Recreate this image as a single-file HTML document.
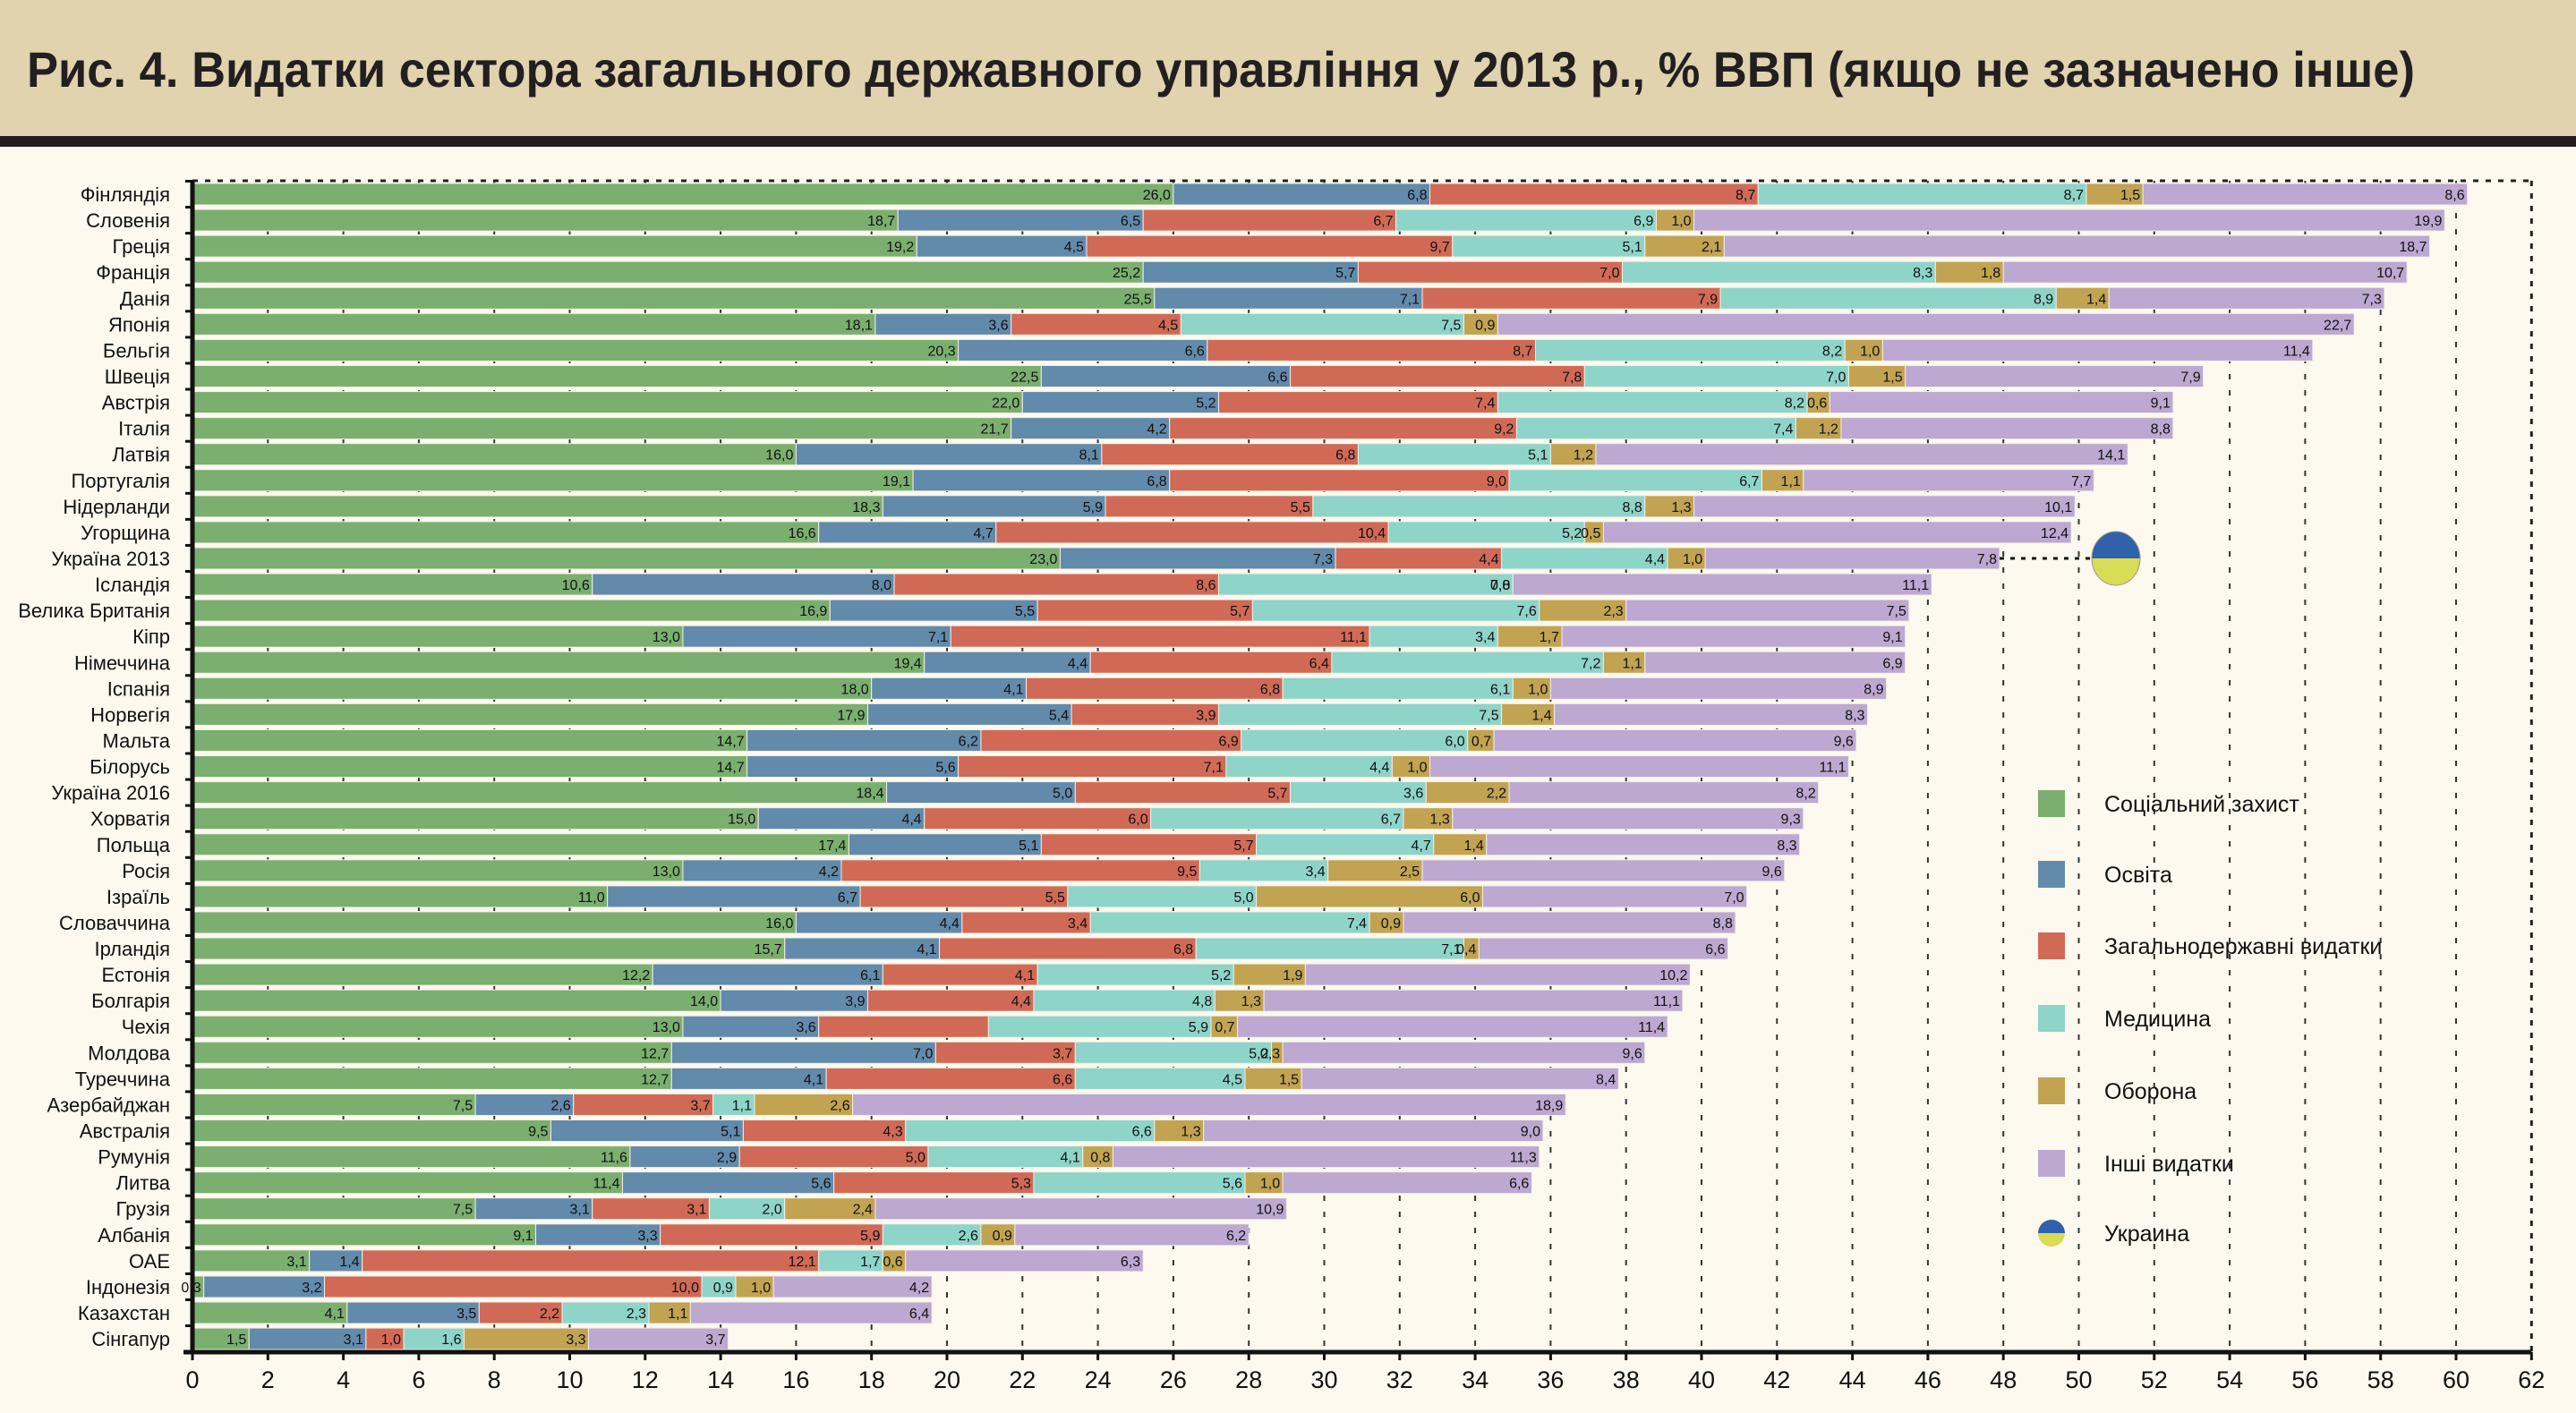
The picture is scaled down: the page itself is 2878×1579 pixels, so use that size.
<!DOCTYPE html>
<html><head><meta charset="utf-8"><style>
html,body{margin:0;padding:0;background:#fdf9ee;}
svg{display:block;font-family:"Liberation Sans Narrow","Liberation Sans","DejaVu Sans",sans-serif;}
</style></head><body>
<svg id="chart" width="2878" height="1579" viewBox="0 0 2878 1579">
<rect x="0" y="0" width="2878" height="152" fill="#e0d3ae"/>
<rect x="0" y="152" width="2878" height="12" fill="#231f20"/>
<text x="30" y="97" font-size="56" font-weight="bold" fill="#231f20" textLength="2668" lengthAdjust="spacingAndGlyphs" style="font-family:'Liberation Sans',sans-serif">Рис. 4. Видатки сектора загального державного управління у 2013 р., % ВВП (якщо не зазначено інше)</text>
<g id="grid"></g><g id="bars"></g><g id="axes"></g><g id="legend"></g>
</svg>
<script>
const countries=["Фінляндія","Словенія","Греція","Франція","Данія","Японія","Бельгія","Швеція","Австрія","Італія","Латвія","Португалія","Нідерланди","Угорщина","Україна 2013","Ісландія","Велика Британія","Кіпр","Німеччина","Іспанія","Норвегія","Мальта","Білорусь","Україна 2016","Хорватія","Польща","Росія","Ізраїль","Словаччина","Ірландія","Естонія","Болгарія","Чехія","Молдова","Туреччина","Азербайджан","Австралія","Румунія","Литва","Грузія","Албанія","ОАЕ","Індонезія","Казахстан","Сінгапур"];
const social=[26.0,18.7,19.2,25.2,25.5,18.1,20.3,22.5,22.0,21.7,16.0,19.1,18.3,16.6,23.0,10.6,16.9,13.0,19.4,18.0,17.9,14.7,14.7,18.4,15.0,17.4,13.0,11.0,16.0,15.7,12.2,14.0,13.0,12.7,12.7,7.5,9.5,11.6,11.4,7.5,9.1,3.1,0.3,4.1,1.5];
const education=[6.8,6.5,4.5,5.7,7.1,3.6,6.6,6.6,5.2,4.2,8.1,6.8,5.9,4.7,7.3,8.0,5.5,7.1,4.4,4.1,5.4,6.2,5.6,5.0,4.4,5.1,4.2,6.7,4.4,4.1,6.1,3.9,3.6,7.0,4.1,2.6,5.1,2.9,5.6,3.1,3.3,1.4,3.2,3.5,3.1];
const general=[8.7,6.7,9.7,7.0,7.9,4.5,8.7,7.8,7.4,9.2,6.8,9.0,5.5,10.4,4.4,8.6,5.7,11.1,6.4,6.8,3.9,6.9,7.1,5.7,6.0,5.7,9.5,5.5,3.4,6.8,4.1,4.4,4.5,3.7,6.6,3.7,4.3,5.0,5.3,3.1,5.9,12.1,10.0,2.2,1.0];
const health=[8.7,6.9,5.1,8.3,8.9,7.5,8.2,7.0,8.2,7.4,5.1,6.7,8.8,5.2,4.4,7.8,7.6,3.4,7.2,6.1,7.5,6.0,4.4,3.6,6.7,4.7,3.4,5.0,7.4,7.1,5.2,4.8,5.9,5.2,4.5,1.1,6.6,4.1,5.6,2.0,2.6,1.7,0.9,2.3,1.6];
const defence=[1.5,1.0,2.1,1.8,1.4,0.9,1.0,1.5,0.6,1.2,1.2,1.1,1.3,0.5,1.0,0.0,2.3,1.7,1.1,1.0,1.4,0.7,1.0,2.2,1.3,1.4,2.5,6.0,0.9,0.4,1.9,1.3,0.7,0.3,1.5,2.6,1.3,0.8,1.0,2.4,0.9,0.6,1.0,1.1,3.3];
const other=[8.6,19.9,18.7,10.7,7.3,22.7,11.4,7.9,9.1,8.8,14.1,7.7,10.1,12.4,7.8,11.1,7.5,9.1,6.9,8.9,8.3,9.6,11.1,8.2,9.3,8.3,9.6,7.0,8.8,6.6,10.2,11.1,11.4,9.6,8.4,18.9,9.0,11.3,6.6,10.9,6.2,6.3,4.2,6.4,3.7];
const ticks=[0,2,4,6,8,10,12,14,16,18,20,22,24,26,28,30,32,34,36,38,40,42,44,46,48,50,52,54,56,58,60,62];
const seriesNames=["Соціальний захист","Освіта","Загальнодержавні видатки","Медицина"," Оборона","Інші видатки"];
const colors=["#7aaf6f","#628aab","#d06a56","#8ed4c9","#c1a352","#bca8d1"];
const series=[social,education,general,health,defence,other];
const hiddenLabels=["Чехія:2"];
const NS="http://www.w3.org/2000/svg";
const X0=215,UNIT=42.15,Y0=217,PITCH=29.07,BH=24,TOP=202,BOT=1511;
const xs=v=>X0+v*UNIT, ys=i=>Y0+i*PITCH;
function mk(tag,attrs,parent,txt){const e=document.createElementNS(NS,tag);for(const k in attrs)e.setAttribute(k,attrs[k]);if(txt!==undefined)e.textContent=txt;parent.appendChild(e);return e;}
const grid=document.getElementById('grid'),bars=document.getElementById('bars'),axes=document.getElementById('axes'),legend=document.getElementById('legend');
ticks.forEach(t=>{
  if(t>0&&t<62){const l=mk('line',{x1:xs(t),x2:xs(t),y1:TOP,y2:BOT,stroke:'#333','stroke-width':2,'stroke-dasharray':'6 12'},grid);
  
  }
  const tx=mk('text',{x:xs(t),y:BOT+40,'font-size':27,'text-anchor':'middle',fill:'#111'},axes,String(t));
  
  
  mk('line',{x1:xs(t),x2:xs(t),y1:BOT,y2:BOT+9,stroke:'#111','stroke-width':3},axes);
});
const rb=mk('line',{x1:xs(62),x2:xs(62),y1:TOP,y2:BOT,stroke:'#222','stroke-width':3,'stroke-dasharray':'6 8'},grid);


const tb=mk('line',{x1:X0,x2:xs(62),y1:TOP,y2:TOP,stroke:'#222','stroke-width':3,'stroke-dasharray':'6 8'},grid);


countries.forEach((c,i)=>{
  const y=ys(i);let acc=0;
  const g=mk('g',{},bars);
  
  
  series.forEach((s,k)=>{
    const v=s[i];const x=xs(acc);const w=v*UNIT;
    const r=mk('rect',{x:x,y:y-BH/2,width:Math.max(w,0),height:BH,fill:colors[k],stroke:'#f3efe6','stroke-width':1},g);
    
    
    acc+=v;
    if(hiddenLabels.indexOf(c+':'+k)<0){
      const t=mk('text',{x:xs(acc)-3,y:y+6,'font-size':16,'text-anchor':'end',fill:'#111'},g,v.toFixed(1).replace('.',','));
      
      
    }
  });
  const lb=mk('text',{x:190,y:y+8,'font-size':22,'text-anchor':'end',fill:'#111'},axes,c);
  
  
  mk('line',{x1:X0-8,x2:X0,y1:y-PITCH/2,y2:y-PITCH/2,stroke:'#111','stroke-width':3},axes);
  if(c==="Україна 2013"){
    const ex=xs(acc),cx=2364;
    const d=mk('line',{x1:ex,x2:cx-26,y1:y,y2:y,stroke:'#111','stroke-width':3,'stroke-dasharray':'5 7'},axes);
    
    
    const m=mk('g',{},axes);
    
    
    mk('path',{d:`M${cx-27} ${y} A27 30 0 0 1 ${cx+27} ${y} Z`,fill:'#3161ac'},m);
    mk('path',{d:`M${cx-27} ${y} A27 30 0 0 0 ${cx+27} ${y} Z`,fill:'#d9dc55'},m);
    mk('ellipse',{cx:cx,cy:y,rx:27,ry:30,fill:'none',stroke:'#999','stroke-width':1},m);
  }
});
const la=mk('line',{x1:X0,x2:X0,y1:TOP,y2:BOT,stroke:'#111','stroke-width':5},axes);


const ba=mk('line',{x1:X0-10,x2:xs(62),y1:BOT,y2:BOT,stroke:'#111','stroke-width':5},axes);


const ly=[898,977,1057,1138,1219,1300];
seriesNames.forEach((n,k)=>{
  const g=mk('g',{},legend);
  
  
  mk('rect',{x:2277,y:ly[k]-15,width:30,height:30,fill:colors[k]},g);
  mk('text',{x:2351,y:ly[k]+9,'font-size':25,fill:'#111',style:"font-family:'Liberation Sans',sans-serif"},g,n);
});
const ug=mk('g',{},legend);


mk('path',{d:'M2277 1378 A15 15 0 0 1 2307 1378 Z',fill:'#3161ac'},ug);
mk('path',{d:'M2277 1378 A15 15 0 0 0 2307 1378 Z',fill:'#d9dc55'},ug);
mk('text',{x:2351,y:1387,'font-size':25,fill:'#111',style:"font-family:'Liberation Sans',sans-serif"},ug,'Украина');
</script>
</body></html>
